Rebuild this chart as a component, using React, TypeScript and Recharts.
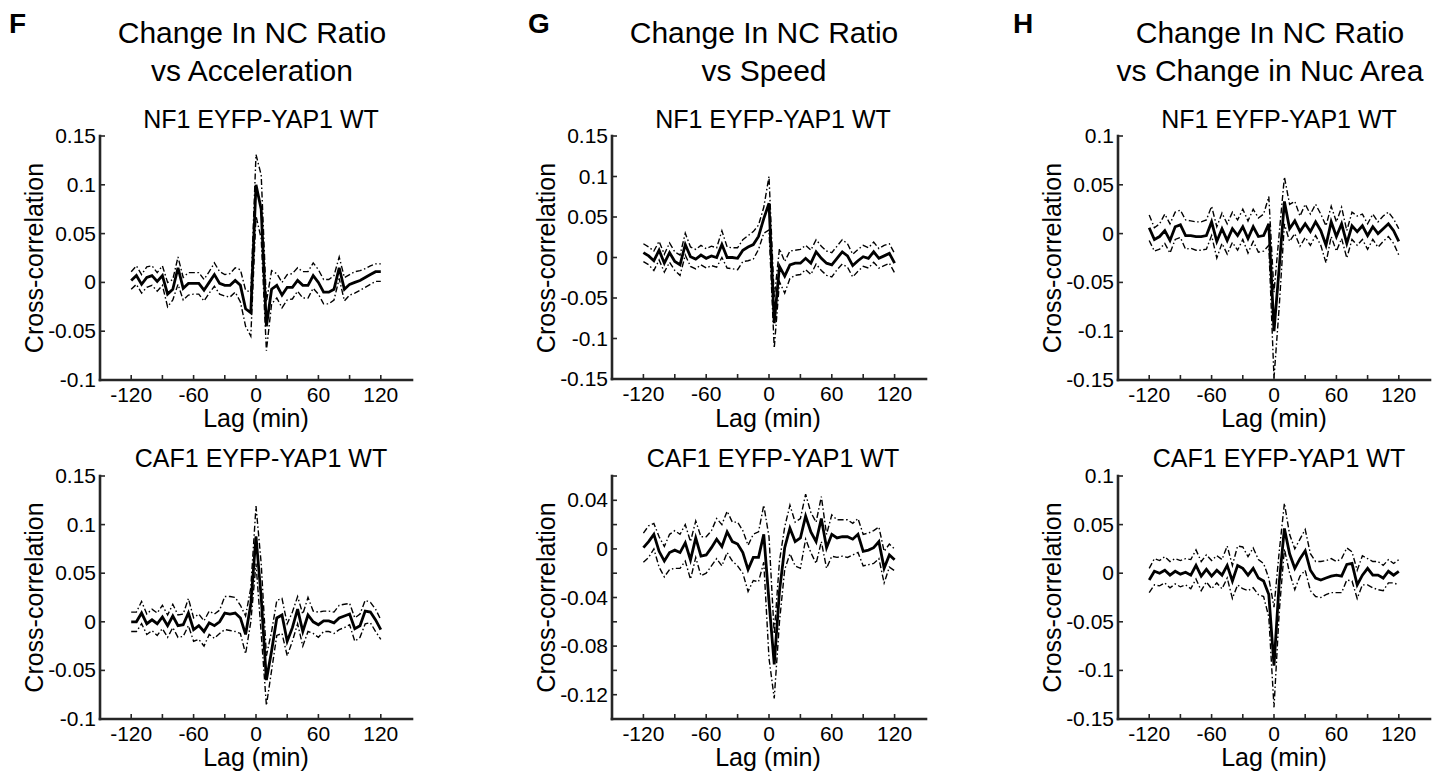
import { Line, LineChart, XAxis, YAxis } from 'recharts';

// lag in minutes, shared by all six panels
const LAGS = [
  -120, -115, -110, -105, -100, -95, -90, -85, -80, -75, -70, -65, -60, -55, -50, -45, -40, -35,
  -30, -25, -20, -15, -10, -5, 0, 5, 10, 15, 20, 25, 30, 35, 40, 45, 50, 55, 60, 65, 70, 75, 80,
  85, 90, 95, 100, 105, 110, 115, 120,
];

// F: acceleration
const ACC_NF1_MEAN = [
  0.002, 0.007, -0.002, 0.005, 0.007, 0.001, 0.007, -0.012, -0.007, 0.015, -0.006, -0.001, -0.001,
  -0.001, -0.008, 0.0, 0.008, -0.001, -0.003, -0.003, 0.002, -0.003, -0.027, -0.031, 0.1, 0.075,
  -0.045, -0.007, -0.003, -0.013, -0.005, -0.005, 0.002, -0.003, -0.003, 0.007, 0.0, -0.01, -0.01,
  -0.007, 0.015, -0.007, -0.002, 0.0, 0.002, 0.005, 0.008, 0.011, 0.011,
];
const ACC_NF1_UPPER = [
  0.011, 0.017, 0.008, 0.016, 0.017, 0.01, 0.017, 0.0, 0.003, 0.026, 0.005, 0.01, 0.01, 0.01,
  0.003, 0.011, 0.02, 0.011, 0.008, 0.009, 0.015, 0.013, -0.008, -0.01, 0.131, 0.11, -0.02, 0.012,
  0.009, 0.0, 0.008, 0.009, 0.015, 0.011, 0.011, 0.02, 0.013, 0.003, 0.003, 0.007, 0.026, 0.005,
  0.008, 0.011, 0.012, 0.014, 0.017, 0.019, 0.019,
];
const ACC_NF1_LOWER = [
  -0.007, -0.002, -0.011, -0.005, -0.003, -0.009, -0.003, -0.025, -0.018, -0.002, -0.018, -0.013,
  -0.012, -0.012, -0.019, -0.011, -0.004, -0.012, -0.014, -0.015, -0.01, -0.02, -0.045, -0.055,
  0.068, 0.045, -0.07, -0.022, -0.016, -0.026, -0.018, -0.017, -0.009, -0.016, -0.016, -0.006,
  -0.012, -0.022, -0.022, -0.018, 0.004, -0.019, -0.013, -0.011, -0.008, -0.005, -0.002, 0.001,
  0.001,
];
const ACC_CAF1_MEAN = [
  0.0, 0.0, 0.009, -0.002, 0.002, -0.002, 0.005, -0.004, 0.006, -0.004, -0.003, 0.009, -0.008,
  -0.004, -0.01, -0.001, -0.004, 0.0, 0.009, 0.008, 0.009, 0.004, -0.013, 0.018, 0.088, 0.025,
  -0.06, -0.03, 0.004, 0.007, -0.02, -0.006, 0.013, -0.01, 0.007, 0.0, -0.003, 0.001, 0.001,
  -0.001, 0.004, 0.006, 0.008, -0.007, -0.004, 0.011, 0.01, 0.002, -0.008,
];
const ACC_CAF1_UPPER = [
  0.01, 0.01, 0.021, 0.008, 0.013, 0.009, 0.017, 0.007, 0.018, 0.007, 0.008, 0.024, 0.004, 0.008,
  0.001, 0.011, 0.008, 0.012, 0.026, 0.026, 0.025, 0.017, 0.006, 0.035, 0.119, 0.06, -0.035, -0.01,
  0.022, 0.024, -0.002, 0.01, 0.026, 0.008, 0.025, 0.011, 0.01, 0.011, 0.011, 0.01, 0.017, 0.018,
  0.019, 0.004, 0.008, 0.022, 0.02, 0.013, 0.002,
];
const ACC_CAF1_LOWER = [
  -0.01, -0.01, -0.002, -0.013, -0.009, -0.014, -0.007, -0.016, -0.006, -0.016, -0.015, -0.004,
  -0.02, -0.018, -0.025, -0.013, -0.017, -0.012, -0.008, -0.009, -0.01, -0.012, -0.033, 0.0, 0.06,
  -0.012, -0.086, -0.05, -0.014, -0.012, -0.035, -0.02, -0.002, -0.025, -0.01, -0.012, -0.016,
  -0.01, -0.01, -0.012, -0.008, -0.006, -0.003, -0.02, -0.016, -0.002, -0.001, -0.01, -0.018,
];

// G: speed
const SPD_NF1_MEAN = [
  0.006, 0.002, -0.004, 0.009, -0.007, 0.006, -0.005, -0.009, 0.016, 0.001, -0.002, 0.003, -0.001,
  0.002, 0.0, 0.016, 0.0, 0.0, -0.001, 0.009, 0.013, 0.016, 0.026, 0.048, 0.067, -0.081, -0.011,
  -0.023, -0.009, -0.007, -0.007, -0.001, -0.007, 0.007, -0.001, -0.007, -0.009, -0.001, 0.007,
  0.002, -0.01, -0.004, 0.001, -0.001, 0.007, -0.001, 0.002, 0.005, -0.007,
];
const SPD_NF1_UPPER = [
  0.017, 0.013, 0.008, 0.02, 0.004, 0.018, 0.007, 0.003, 0.03, 0.013, 0.01, 0.015, 0.011, 0.014,
  0.012, 0.033, 0.013, 0.012, 0.012, 0.022, 0.027, 0.032, 0.04, 0.062, 0.1, -0.05, 0.011, -0.005,
  0.008, 0.009, 0.01, 0.015, 0.009, 0.022, 0.014, 0.008, 0.006, 0.014, 0.022, 0.017, 0.004, 0.01,
  0.015, 0.012, 0.019, 0.011, 0.015, 0.017, 0.005,
];
const SPD_NF1_LOWER = [
  -0.005, -0.009, -0.016, -0.003, -0.018, -0.006, -0.016, -0.022, 0.003, -0.011, -0.014, -0.009,
  -0.013, -0.01, -0.012, 0.0, -0.013, -0.014, -0.015, -0.005, -0.004, -0.002, 0.01, 0.03, 0.034,
  -0.112, -0.03, -0.044, -0.026, -0.022, -0.021, -0.015, -0.021, -0.008, -0.016, -0.022, -0.024,
  -0.015, -0.008, -0.012, -0.024, -0.017, -0.011, -0.013, -0.006, -0.013, -0.01, -0.007, -0.019,
];
const SPD_CAF1_MEAN = [
  0.001, 0.006, 0.012, -0.002, -0.01, -0.003, -0.001, -0.003, 0.005, -0.009, 0.009, -0.006, -0.005,
  0.001, 0.008, 0.002, 0.014, 0.006, 0.004, -0.003, -0.017, -0.007, -0.007, 0.012, -0.043, -0.095,
  -0.035, 0.001, 0.017, 0.006, 0.009, 0.027, 0.014, 0.006, 0.025, 0.001, 0.012, 0.009, 0.01, 0.01,
  0.008, 0.012, -0.002, -0.001, 0.001, 0.006, -0.016, -0.005, -0.009,
];
const SPD_CAF1_UPPER = [
  0.013, 0.019, 0.021, 0.01, 0.002, 0.012, 0.015, 0.012, 0.02, 0.006, 0.023, 0.01, 0.01, 0.015,
  0.025, 0.02, 0.031, 0.022, 0.022, 0.015, 0.003, 0.012, 0.014, 0.036, 0.01, -0.07, -0.01, 0.018,
  0.036, 0.022, 0.025, 0.045, 0.03, 0.022, 0.043, 0.012, 0.028, 0.024, 0.024, 0.024, 0.021, 0.025,
  0.012, 0.013, 0.015, 0.018, -0.002, 0.004, 0.0,
];
const SPD_CAF1_LOWER = [
  -0.011, -0.007, 0.0, -0.015, -0.023, -0.017, -0.016, -0.016, -0.01, -0.025, -0.007, -0.022,
  -0.02, -0.014, -0.008, -0.014, -0.003, -0.01, -0.014, -0.02, -0.035, -0.026, -0.027, -0.011,
  -0.09, -0.123, -0.06, -0.017, -0.004, -0.014, -0.016, 0.008, -0.003, -0.012, 0.006, -0.016,
  -0.006, -0.007, -0.006, -0.007, -0.005, -0.003, -0.014, -0.013, -0.012, -0.008, -0.028, -0.015,
  -0.018,
];

// H: change in nuclear area
const NUC_NF1_MEAN = [
  0.006, -0.006, -0.003, 0.003, -0.007, 0.007, 0.009, -0.002, -0.002, -0.003, -0.003, -0.002,
  0.012, -0.008, 0.005, -0.007, 0.005, -0.002, 0.007, -0.005, 0.007, -0.003, -0.002, 0.01, -0.1,
  -0.035, 0.033, 0.005, 0.013, 0.002, 0.01, 0.002, 0.012, 0.003, -0.012, 0.012, -0.003, 0.01,
  -0.01, 0.008, 0.002, 0.008, -0.002, 0.007, 0.0, 0.005, 0.01, 0.003, -0.008,
];
const NUC_NF1_UPPER = [
  0.019, 0.006, 0.01, 0.02, 0.01, 0.022, 0.024, 0.014, 0.013, 0.012, 0.012, 0.014, 0.028, 0.007,
  0.021, 0.01, 0.022, 0.014, 0.025, 0.013, 0.025, 0.016, 0.02, 0.038, -0.06, 0.0, 0.058, 0.03,
  0.033, 0.018, 0.03, 0.02, 0.03, 0.02, 0.008, 0.028, 0.012, 0.027, 0.003, 0.022, 0.018, 0.02,
  0.01, 0.02, 0.012, 0.018, 0.022, 0.015, 0.005,
];
const NUC_NF1_LOWER = [
  -0.007, -0.018, -0.016, -0.01, -0.02, -0.006, -0.004, -0.016, -0.015, -0.017, -0.017, -0.016,
  -0.002, -0.025, -0.01, -0.021, -0.009, -0.017, -0.006, -0.02, -0.008, -0.019, -0.018, -0.012,
  -0.148, -0.075, 0.01, -0.008, 0.0, -0.013, -0.004, -0.012, -0.002, -0.012, -0.03, -0.003,
  -0.018, -0.005, -0.025, -0.006, -0.012, -0.006, -0.016, -0.006, -0.014, -0.008, -0.003, -0.01,
  -0.022,
];
const NUC_CAF1_MEAN = [
  -0.007, 0.002, 0.0, 0.003, -0.002, 0.002, -0.001, 0.001, -0.002, 0.008, -0.003, 0.004, -0.003,
  0.003, -0.002, 0.008, -0.008, 0.008, 0.005, -0.002, 0.005, -0.005, -0.008, -0.022, -0.095,
  -0.01, 0.046, 0.02, 0.005, 0.015, 0.023, 0.003, -0.005, -0.007, -0.005, -0.003, -0.002, -0.003,
  0.009, 0.01, -0.012, -0.002, 0.005, -0.002, -0.002, -0.005, 0.002, -0.002, 0.002,
];
const NUC_CAF1_UPPER = [
  0.005, 0.015, 0.013, 0.017, 0.012, 0.015, 0.013, 0.015, 0.014, 0.024, 0.012, 0.019, 0.013,
  0.018, 0.014, 0.028, 0.008, 0.028, 0.027, 0.017, 0.026, 0.014, 0.01, -0.005, -0.035, 0.022,
  0.072, 0.04, 0.025, 0.035, 0.045, 0.02, 0.012, 0.012, 0.013, 0.015, 0.012, 0.015, 0.026, 0.022,
  0.003, 0.018, 0.015, 0.012, 0.012, 0.008, 0.014, 0.01, 0.014,
];
const NUC_CAF1_LOWER = [
  -0.02, -0.012, -0.013, -0.01, -0.015, -0.011, -0.014, -0.012, -0.016, -0.006, -0.018, -0.009,
  -0.016, -0.01, -0.016, -0.005, -0.026, -0.012, -0.016, -0.018, -0.015, -0.022, -0.024, -0.045,
  -0.138, -0.04, 0.025, 0.0, -0.017, -0.003, 0.003, -0.018, -0.024, -0.025, -0.022, -0.02, -0.02,
  -0.02, -0.007, -0.008, -0.026, -0.012, -0.012, -0.015, -0.017, -0.018, -0.01, -0.01, -0.012,
];

const X_TICKS = [-120, -90, -60, -30, 0, 30, 60, 90, 120];
const X_LABELED = [-120, -60, 0, 60, 120];
const Y_TICKS_F = [-0.1, -0.05, 0, 0.05, 0.1, 0.15];
const Y_TICKS_G_TOP = [-0.15, -0.1, -0.05, 0, 0.05, 0.1, 0.15];
const Y_TICKS_G_BOTTOM = [-0.14, -0.12, -0.1, -0.08, -0.06, -0.04, -0.02, 0, 0.02, 0.04, 0.06];
const Y_LABELED_G_BOTTOM = [-0.12, -0.08, -0.04, 0, 0.04];
const Y_TICKS_H = [-0.15, -0.1, -0.05, 0, 0.05, 0.1];

const FONT = '"Liberation Sans", Arial, Helvetica, sans-serif';
const AXIS_COLOR = '#262626';
const TICK_LEN = 5;
const TICK_FONT = 21;
const PAD_L = 80;
const PAD_T = 16;
const PAD_R = 6;
const PAD_B = 60;

const frameLine = { stroke: AXIS_COLOR, strokeWidth: 2.6, strokeLinecap: 'square' as const };

function tickMark(x1: number, y1: number, x2: number, y2: number) {
  return <line x1={x1} y1={y1} x2={x2} y2={y2} stroke={AXIS_COLOR} strokeWidth={1.6} />;
}

function bottomTick(props: any) {
  const { x, y, payload } = props;
  const v = payload.value;
  return (
    <g>
      {tickMark(x, y, x, y - TICK_LEN)}
      {X_LABELED.includes(v) && (
        <text x={x} y={y + 22} textAnchor="middle" fontSize={TICK_FONT} fontFamily={FONT} fill="#000">
          {v}
        </text>
      )}
    </g>
  );
}

function topTick(props: any) {
  const { x, y } = props;
  return <g>{tickMark(x, y, x, y + TICK_LEN)}</g>;
}

function rightTick(props: any) {
  const { x, y } = props;
  return <g>{tickMark(x, y, x - TICK_LEN, y)}</g>;
}

function makeLeftTick(labeled: number[] | null) {
  return (props: any) => {
    const { x, y, payload } = props;
    const v = payload.value;
    const show = labeled === null || labeled.includes(v);
    return (
      <g>
        {tickMark(x, y, x + TICK_LEN, y)}
        {show && (
          <text x={x - 4} y={y + 7} textAnchor="end" fontSize={TICK_FONT} fontFamily={FONT} fill="#000">
            {String(v)}
          </text>
        )}
      </g>
    );
  };
}

interface PanelProps {
  x: number;
  y: number;
  w: number;
  h: number;
  yDomain: [number, number];
  yTicks: number[];
  yLabeled: number[] | null;
  mean: number[];
  upper: number[];
  lower: number[];
}

function Panel({ x, y, w, h, yDomain, yTicks, yLabeled, mean, upper, lower }: PanelProps) {
  const data = LAGS.map((lag, i) => ({ lag, mean: mean[i], upper: upper[i], lower: lower[i] }));

  return (
    <div style={{ position: 'absolute', left: x - PAD_L, top: y - PAD_T }}>
      <LineChart
        width={w + PAD_L + PAD_R}
        height={h + PAD_T + PAD_B}
        data={data}
        margin={{ top: PAD_T, right: PAD_R, bottom: 0, left: 0 }}
      >
        <XAxis
          dataKey="lag"
          type="number"
          domain={[-150, 150]}
          ticks={X_TICKS}
          interval={0}
          height={PAD_B}
          tickSize={0}
          tickMargin={0}
          tickLine={false}
          axisLine={frameLine}
          tick={bottomTick}
          allowDataOverflow
        />
        <XAxis
          xAxisId="top"
          orientation="top"
          dataKey="lag"
          type="number"
          domain={[-150, 150]}
          ticks={X_TICKS}
          interval={0}
          height={0}
          tickSize={0}
          tickMargin={0}
          tickLine={false}
          axisLine={frameLine}
          tick={topTick}
          allowDataOverflow
        />
        <YAxis
          type="number"
          domain={yDomain}
          ticks={yTicks}
          interval={0}
          width={PAD_L}
          tickSize={0}
          tickMargin={0}
          tickLine={false}
          axisLine={frameLine}
          tick={makeLeftTick(yLabeled)}
          allowDataOverflow
        />
        <YAxis
          yAxisId="right"
          orientation="right"
          type="number"
          domain={yDomain}
          ticks={yTicks}
          interval={0}
          width={0}
          tickSize={0}
          tickMargin={0}
          tickLine={false}
          axisLine={frameLine}
          tick={rightTick}
          allowDataOverflow
        />
        <Line
          dataKey="upper"
          type="linear"
          stroke="#000"
          strokeWidth={1.4}
          strokeDasharray="6 2.5 1.5 2.5"
          dot={false}
          isAnimationActive={false}
        />
        <Line
          dataKey="lower"
          type="linear"
          stroke="#000"
          strokeWidth={1.4}
          strokeDasharray="6 2.5 1.5 2.5"
          dot={false}
          isAnimationActive={false}
        />
        <Line
          dataKey="mean"
          type="linear"
          stroke="#000"
          strokeWidth={2.8}
          dot={false}
          isAnimationActive={false}
        />
      </LineChart>
    </div>
  );
}

const COLUMNS = [
  { letter: 'F', letterX: 9, x: 100, title2: 'vs Acceleration' },
  { letter: 'G', letterX: 528, x: 612, title2: 'vs Speed' },
  { letter: 'H', letterX: 1013, x: 1118, title2: 'vs Change in Nuc Area' },
];
const PLOT_W = 312;
const TOP_Y = 136;
const TOP_H = 244;
const BOT_Y = 476;
const BOT_H = 243;

export default function App() {
  return (
    <div
      style={{
        position: 'absolute',
        left: 0,
        top: 0,
        width: 1445,
        height: 778,
        background: '#fff',
        overflow: 'hidden',
      }}
    >
      <Panel x={100} y={TOP_Y} w={PLOT_W} h={TOP_H} yDomain={[-0.1, 0.15]} yTicks={Y_TICKS_F} yLabeled={null}
        mean={ACC_NF1_MEAN} upper={ACC_NF1_UPPER} lower={ACC_NF1_LOWER} />
      <Panel x={100} y={BOT_Y} w={PLOT_W} h={BOT_H} yDomain={[-0.1, 0.15]} yTicks={Y_TICKS_F} yLabeled={null}
        mean={ACC_CAF1_MEAN} upper={ACC_CAF1_UPPER} lower={ACC_CAF1_LOWER} />
      <Panel x={612} y={TOP_Y} w={314} h={TOP_H - 1} yDomain={[-0.15, 0.15]} yTicks={Y_TICKS_G_TOP} yLabeled={null}
        mean={SPD_NF1_MEAN} upper={SPD_NF1_UPPER} lower={SPD_NF1_LOWER} />
      <Panel x={612} y={BOT_Y} w={314} h={BOT_H} yDomain={[-0.14, 0.06]} yTicks={Y_TICKS_G_BOTTOM}
        yLabeled={Y_LABELED_G_BOTTOM} mean={SPD_CAF1_MEAN} upper={SPD_CAF1_UPPER} lower={SPD_CAF1_LOWER} />
      <Panel x={1118} y={TOP_Y} w={PLOT_W} h={TOP_H} yDomain={[-0.15, 0.1]} yTicks={Y_TICKS_H} yLabeled={null}
        mean={NUC_NF1_MEAN} upper={NUC_NF1_UPPER} lower={NUC_NF1_LOWER} />
      <Panel x={1118} y={BOT_Y} w={PLOT_W} h={BOT_H} yDomain={[-0.15, 0.1]} yTicks={Y_TICKS_H} yLabeled={null}
        mean={NUC_CAF1_MEAN} upper={NUC_CAF1_UPPER} lower={NUC_CAF1_LOWER} />

      <svg
        width={1445}
        height={778}
        style={{ position: 'absolute', left: 0, top: 0, pointerEvents: 'none' }}
        fontFamily={FONT}
      >
        {COLUMNS.map((c) => {
          const cx = c.x + PLOT_W / 2;
          return (
            <g key={c.letter}>
              <text x={c.letterX} y={33} fontSize={28} fontWeight="bold" fill="#000">
                {c.letter}
              </text>
              <text x={cx - 4} y={43} fontSize={30} textAnchor="middle" fill="#000">
                Change In NC Ratio
              </text>
              <text x={cx - 4} y={81} fontSize={30} textAnchor="middle" fill="#000">
                {c.title2}
              </text>
              <text x={cx + 5} y={TOP_Y - 8} fontSize={25} textAnchor="middle" fill="#000">
                NF1 EYFP-YAP1 WT
              </text>
              <text x={cx + 5} y={BOT_Y - 9} fontSize={25} textAnchor="middle" fill="#000">
                CAF1 EYFP-YAP1 WT
              </text>
              <text x={cx} y={TOP_Y + TOP_H + 47} fontSize={25} textAnchor="middle" fill="#000">
                Lag (min)
              </text>
              <text x={cx} y={BOT_Y + BOT_H + 47} fontSize={25} textAnchor="middle" fill="#000">
                Lag (min)
              </text>
              <text
                transform={`translate(${c.x - 57}, ${TOP_Y + TOP_H / 2}) rotate(-90)`}
                fontSize={25}
                textAnchor="middle"
                fill="#000"
              >
                Cross-correlation
              </text>
              <text
                transform={`translate(${c.x - 57}, ${BOT_Y + BOT_H / 2}) rotate(-90)`}
                fontSize={25}
                textAnchor="middle"
                fill="#000"
              >
                Cross-correlation
              </text>
            </g>
          );
        })}
      </svg>
    </div>
  );
}
